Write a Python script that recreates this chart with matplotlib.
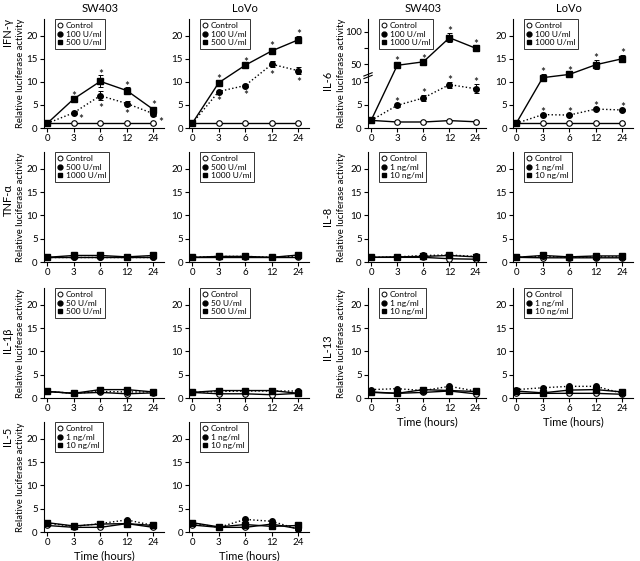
import numpy as np
import matplotlib.pyplot as plt
from matplotlib.lines import Line2D

plt.rcParams['font.family'] = ['Lato', 'DejaVu Sans']

hours = ['0', '3', '6', '12', '24']
cells = ['SW403', 'LoVo']

# IFN-gamma
ifng_doses = ['100 U/ml', '500 U/ml']
ifng_sw403_ctrl = [1.0, 1.0, 1.0, 1.0, 1.0]
ifng_sw403_low = [1.0, 3.3, 7.0, 5.3, 3.1]
ifng_sw403_high = [1.0, 6.3, 10.1, 8.1, 4.0]
ifng_sw403_low_err = [0.1, 0.3, 1.0, 0.6, 0.6]
ifng_sw403_high_err = [0.1, 0.3, 1.3, 0.7, 0.6]
ifng_lovo_ctrl = [1.0, 1.0, 1.0, 1.0, 1.0]
ifng_lovo_low = [1.0, 7.9, 9.2, 13.8, 12.4]
ifng_lovo_high = [1.0, 9.8, 13.6, 16.7, 19.1]
ifng_lovo_low_err = [0.1, 0.4, 0.3, 0.6, 0.7]
ifng_lovo_high_err = [0.1, 0.5, 0.3, 0.6, 0.8]

# TNF-alpha
tnfa_doses = ['500 U/ml', '1000 U/ml']
tnfa_sw403_ctrl = [1.0, 1.0, 1.0, 1.0, 1.0]
tnfa_sw403_low = [1.0, 1.0, 1.0, 1.0, 1.0]
tnfa_sw403_high = [1.0, 1.4, 1.4, 1.1, 1.4]
tnfa_lovo_ctrl = [1.0, 1.0, 1.0, 1.0, 1.0]
tnfa_lovo_low = [1.0, 1.2, 1.2, 1.0, 1.3]
tnfa_lovo_high = [1.0, 1.2, 1.2, 1.0, 1.5]

# IL-1beta
il1b_doses = ['50 U/ml', '500 U/ml']
il1b_sw403_ctrl = [1.4, 1.0, 1.2, 0.9, 1.1]
il1b_sw403_low = [1.4, 1.0, 1.4, 1.3, 1.3]
il1b_sw403_high = [1.4, 1.0, 1.8, 1.8, 1.3]
il1b_lovo_ctrl = [1.2, 0.9, 0.9, 0.7, 1.0]
il1b_lovo_low = [1.2, 1.4, 1.5, 1.5, 1.5]
il1b_lovo_high = [1.2, 1.6, 1.6, 1.6, 1.0]

# IL-5
il5_doses = ['1 ng/ml', '10 ng/ml']
il5_sw403_ctrl = [1.4, 1.0, 1.0, 1.8, 1.0]
il5_sw403_low = [1.9, 1.2, 1.8, 2.6, 1.4]
il5_sw403_high = [2.0, 1.3, 1.7, 1.8, 1.4]
il5_lovo_ctrl = [1.5, 1.0, 1.0, 1.7, 0.7]
il5_lovo_low = [1.9, 1.0, 2.7, 2.3, 0.6]
il5_lovo_high = [2.0, 1.1, 1.6, 1.2, 1.4]

# IL-6
il6_doses = ['100 U/ml', '1000 U/ml']
il6_sw403_ctrl = [1.65, 1.3, 1.3, 1.6, 1.35]
il6_sw403_low = [1.65, 4.9, 6.5, 9.4, 8.5]
il6_sw403_high = [1.65, 48.0, 54.0, 91.0, 75.0]
il6_sw403_low_err = [0.1, 0.3, 0.6, 0.7, 1.0]
il6_sw403_high_err = [0.1, 4.0, 2.0, 7.0, 4.0]
il6_lovo_ctrl = [1.0, 1.0, 1.0, 1.0, 1.0]
il6_lovo_low = [1.0, 2.9, 2.8, 4.1, 3.9]
il6_lovo_high = [1.0, 10.9, 11.6, 13.7, 15.0]
il6_lovo_low_err = [0.1, 0.2, 0.2, 0.3, 0.3]
il6_lovo_high_err = [0.1, 0.8, 0.3, 1.0, 0.8]

# IL-8
il8_doses = ['1 ng/ml', '10 ng/ml']
il8_sw403_ctrl = [1.0, 1.0, 1.0, 0.7, 0.6]
il8_sw403_low = [1.0, 1.1, 1.4, 1.5, 1.2]
il8_sw403_high = [1.0, 1.1, 1.2, 1.4, 1.1]
il8_lovo_ctrl = [1.0, 0.9, 0.9, 0.9, 0.9]
il8_lovo_low = [1.0, 1.2, 1.0, 1.1, 1.1]
il8_lovo_high = [1.0, 1.4, 1.1, 1.3, 1.3]

# IL-13
il13_doses = ['1 ng/ml', '10 ng/ml']
il13_sw403_ctrl = [1.2, 1.0, 1.2, 1.5, 0.9]
il13_sw403_low = [1.8, 2.0, 1.6, 2.5, 1.5]
il13_sw403_high = [1.3, 1.0, 1.8, 1.6, 1.4]
il13_lovo_ctrl = [1.0, 1.0, 1.0, 1.0, 0.8]
il13_lovo_low = [1.8, 2.2, 2.5, 2.5, 1.0]
il13_lovo_high = [1.5, 1.1, 1.7, 1.8, 1.3]

small_err = [0.15, 0.15, 0.15, 0.15, 0.15]

W, H = 640, 561


def px_axes(fig, left, top, right, bottom):
    return fig.add_axes([left / W, 1 - bottom / H, (right - left) / W, (bottom - top) / H])


# broken axis for IL-6 SW403: 0-10 linear, 10-50 squeezed, 50+ compressed
def fwd(v):
    v = np.asarray(v, dtype=float)
    return np.where(v <= 10, v, np.where(v < 50, 10 + (v - 10) * 3.76 / 40, 13.76 + (v - 50) * 0.141))


def inv(u):
    u = np.asarray(u, dtype=float)
    return np.where(u <= 10, u, np.where(u < 13.76, 10 + (u - 10) * 40 / 3.76, 50 + (u - 13.76) / 0.141))


def star(ax, x, y, where):
    if where == 'a':
        off = (0, -3)
    elif where == 'b':
        off = (0, -10)
    else:
        off = (5, -8)
    ax.annotate('*', (x, y), xytext=off, textcoords='offset points',
                ha='center', va='bottom', fontsize=8.5)


def draw_panel(ax, ctrl, low, high, doses, low_err=small_err, high_err=small_err,
               low_stars=None, high_stars=None, broken=False):
    x = np.arange(len(hours))
    kw = dict(color='black', lw=1.0, elinewidth=0.7, capsize=1.8, capthick=0.7)
    ax.errorbar(x, ctrl, yerr=small_err, fmt='-o', ms=4, mfc='white', mec='black', mew=0.8, zorder=3, **kw)
    ax.errorbar(x, low, yerr=low_err, fmt='o', ls=':', ms=4, zorder=4, **kw)
    ax.errorbar(x, high, yerr=high_err, fmt='-s', ms=4, zorder=5, **kw)

    if low_stars:
        for i, w in enumerate(low_stars):
            if w == 'a':
                star(ax, i, low[i] + low_err[i], w)
            elif w:
                star(ax, i, low[i] - low_err[i], w)
    if high_stars:
        for i, w in enumerate(high_stars):
            if w:
                star(ax, i, high[i] + high_err[i], w)

    ax.set_xlim(-0.12, 4.4)
    ax.set_xticks(x)
    ax.set_xticklabels(hours)
    if broken:
        ax.set_yscale('function', functions=(fwd, inv))
        ax.set_ylim(0, float(inv(23.6)))
        ax.set_yticks([0, 5, 10, 50, 100])
        ax.set_yticks([75], minor=True)
        ax.tick_params(axis='y', which='minor', direction='out', length=3, width=0.8)
        for dy in (-0.012, 0.012):
            ax.plot([-0.035, 0.035], [0.465 + dy, 0.495 + dy], color='black', lw=0.8,
                    transform=ax.transAxes, clip_on=False)
    else:
        ax.set_ylim(0, 23.6)
        ax.set_yticks([0, 5, 10, 15, 20])
    for s in ('top', 'right'):
        ax.spines[s].set_visible(False)
    for s in ('left', 'bottom'):
        ax.spines[s].set_linewidth(0.8)
    ax.tick_params(direction='out', length=3, width=0.8, labelsize=7, pad=1.5)

    handles = [Line2D([], [], ls='none', marker='o', ms=3.5, mfc='white', mec='black', mew=0.7),
               Line2D([], [], ls='none', marker='o', ms=3.5, color='black'),
               Line2D([], [], ls='none', marker='s', ms=3.5, color='black')]
    leg = ax.legend(handles, ['Control'] + doses, loc='upper left', bbox_to_anchor=(0.09, 1.0),
                    borderaxespad=0, fontsize=6, frameon=True, fancybox=False,
                    handlelength=0.6, handletextpad=0.4, labelspacing=0.2, borderpad=0.35)
    leg.get_frame().set_edgecolor('black')
    leg.get_frame().set_linewidth(0.7)


fig = plt.figure(figsize=(6.4, 5.61), dpi=100)

cols = [(44, 164), (189, 309), (368, 486), (513, 633)]
rows = [(19, 128), (152, 262), (288, 398), (422, 532)]

# left block
ax = px_axes(fig, cols[0][0], rows[0][0], cols[0][1], rows[0][1])
draw_panel(ax, ifng_sw403_ctrl, ifng_sw403_low, ifng_sw403_high, ifng_doses,
           ifng_sw403_low_err, ifng_sw403_high_err,
           [None, 'r', 'b', 'b', 'r'], [None, 'a', 'a', 'a', 'a'])
top_left = ax
ax = px_axes(fig, cols[1][0], rows[0][0], cols[1][1], rows[0][1])
draw_panel(ax, ifng_lovo_ctrl, ifng_lovo_low, ifng_lovo_high, ifng_doses,
           ifng_lovo_low_err, ifng_lovo_high_err,
           [None, 'b', 'b', 'b', 'b'], [None, 'a', 'a', 'a', 'a'])
top_left2 = ax

ax = px_axes(fig, cols[0][0], rows[1][0], cols[0][1], rows[1][1])
draw_panel(ax, tnfa_sw403_ctrl, tnfa_sw403_low, tnfa_sw403_high, tnfa_doses)
ax = px_axes(fig, cols[1][0], rows[1][0], cols[1][1], rows[1][1])
draw_panel(ax, tnfa_lovo_ctrl, tnfa_lovo_low, tnfa_lovo_high, tnfa_doses)

ax = px_axes(fig, cols[0][0], rows[2][0], cols[0][1], rows[2][1])
draw_panel(ax, il1b_sw403_ctrl, il1b_sw403_low, il1b_sw403_high, il1b_doses)
ax = px_axes(fig, cols[1][0], rows[2][0], cols[1][1], rows[2][1])
draw_panel(ax, il1b_lovo_ctrl, il1b_lovo_low, il1b_lovo_high, il1b_doses)

ax = px_axes(fig, cols[0][0], rows[3][0], cols[0][1], rows[3][1])
draw_panel(ax, il5_sw403_ctrl, il5_sw403_low, il5_sw403_high, il5_doses)
ax.set_xlabel('Time (hours)', fontsize=8, labelpad=2)
ax = px_axes(fig, cols[1][0], rows[3][0], cols[1][1], rows[3][1])
draw_panel(ax, il5_lovo_ctrl, il5_lovo_low, il5_lovo_high, il5_doses)
ax.set_xlabel('Time (hours)', fontsize=8, labelpad=2)

# right block
ax = px_axes(fig, cols[2][0], rows[0][0], cols[2][1], rows[0][1])
draw_panel(ax, il6_sw403_ctrl, il6_sw403_low, il6_sw403_high, il6_doses,
           il6_sw403_low_err, il6_sw403_high_err,
           [None, 'a', 'a', 'a', 'a'], [None, 'a', 'a', 'a', 'a'], broken=True)
top_right = ax
ax = px_axes(fig, cols[3][0], rows[0][0], cols[3][1], rows[0][1])
draw_panel(ax, il6_lovo_ctrl, il6_lovo_low, il6_lovo_high, il6_doses,
           il6_lovo_low_err, il6_lovo_high_err,
           [None, 'a', 'a', 'a', 'a'], [None, 'a', 'a', 'a', 'a'])
top_right2 = ax

ax = px_axes(fig, cols[2][0], rows[1][0], cols[2][1], rows[1][1])
draw_panel(ax, il8_sw403_ctrl, il8_sw403_low, il8_sw403_high, il8_doses)
ax = px_axes(fig, cols[3][0], rows[1][0], cols[3][1], rows[1][1])
draw_panel(ax, il8_lovo_ctrl, il8_lovo_low, il8_lovo_high, il8_doses)

ax = px_axes(fig, cols[2][0], rows[2][0], cols[2][1], rows[2][1])
draw_panel(ax, il13_sw403_ctrl, il13_sw403_low, il13_sw403_high, il13_doses)
ax.set_xlabel('Time (hours)', fontsize=8, labelpad=2)
ax = px_axes(fig, cols[3][0], rows[2][0], cols[3][1], rows[2][1])
draw_panel(ax, il13_lovo_ctrl, il13_lovo_low, il13_lovo_high, il13_doses)
ax.set_xlabel('Time (hours)', fontsize=8, labelpad=2)

# column titles, centred on the middle time point
for a, name in zip([top_left, top_left2, top_right, top_right2], cells * 2):
    a.text(2, 1.0 + 11 / 109, name, transform=a.get_xaxis_transform(),
           ha='center', va='center', fontsize=8)

# row labels
row_names = [('IFN-γ', 8, 32), ('TNF-α', 8, 200), ('IL-1β', 8, 340), ('IL-5', 8, 436),
             ('IL-6', 328, 80), ('IL-8', 328, 216), ('IL-13', 328, 347)]
for name, x, y in row_names:
    fig.text(x / W, 1 - y / H, name, rotation=90, ha='center', va='center', fontsize=8)

for r in range(4):
    yc = (rows[r][0] + rows[r][1]) / 2
    fig.text(21 / W, 1 - yc / H, 'Relative luciferase activity', rotation=90,
             ha='center', va='center', fontsize=6.8)
    if r < 3:
        fig.text(341 / W, 1 - yc / H, 'Relative luciferase activity', rotation=90,
                 ha='center', va='center', fontsize=6.8)

fig.savefig('out.png', dpi=100)
